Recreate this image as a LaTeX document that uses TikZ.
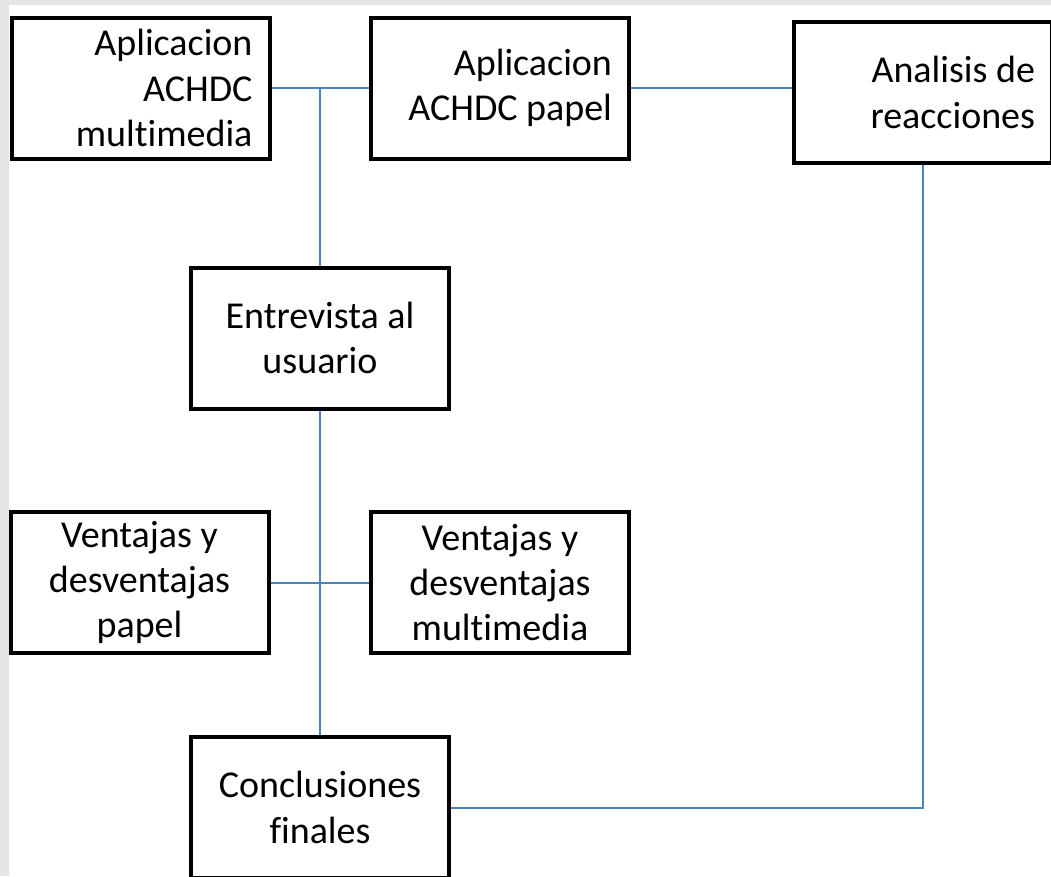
\documentclass[tikz,border=0pt]{standalone}
\usepackage{fontspec}
\setmainfont{Carlito}[RawFeature={-liga;-calt;-dlig;-clig}]
\definecolor{linkblue}{HTML}{4F81BD}
\definecolor{bggrey}{HTML}{E6E6E6}
\begin{document}
\begin{tikzpicture}[x=0.75pt,y=-0.75pt,
  box/.style={draw=black,line width=3pt,fill=white,rectangle,inner sep=0pt,
    minimum width=258*0.75pt,minimum height=141*0.75pt,
    font=\fontsize{28.5pt}{34pt}\selectfont},
  rbox/.style={box,text width=224*0.75pt,align=flush right},
  cbox/.style={box,text width=250*0.75pt,align=flush center},
  link/.style={draw=linkblue,line width=1.5pt}]
\useasboundingbox (0,0) rectangle (1051,876);
\clip (0,0) rectangle (1051,876);
\fill[bggrey] (0,0) rectangle (1051,876);
\fill[white] (9,5) rectangle (1051,876);
\node[rbox] (a1) at (140.5,88) {Aplicacion\\ACHDC\\multimedia};
\node[rbox] (a2) at (500,88) {Aplicacion\\ACHDC papel};
\node[rbox] (a3) at (923,92.5) {Analisis de\\reacciones};
\node[cbox] (e) at (320,338) {Entrevista al\\usuario};
\node[cbox] (vp) at (139.5,582.5) {Ventajas y\\desventajas\\papel};
\node[cbox] (vm) at (500,582.5) {Ventajas y\\desventajas\\multimedia};
\node[cbox] (c) at (320,807.5) {Conclusiones\\finales};
\coordinate (j) at (e.north |- a1.east);
\draw[link] (a1.east) -- (a1.east -| a2.west);
\draw[link] (j) -- (e.north);
\draw[link] (a2.east) -- (a2.east -| a3.west);
\draw[link] (a3.south) |- (c.east);
\draw[link] (e.south) -- (c.north);
\draw[link] (vp.east) -- (vm.west);
\end{tikzpicture}
\end{document}
